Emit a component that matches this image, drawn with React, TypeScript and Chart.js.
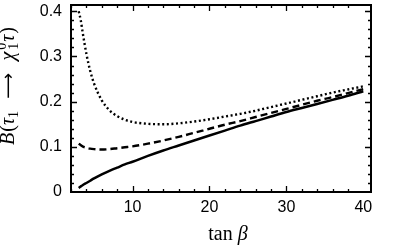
import React, { useEffect, useRef } from "react";
import { Chart, registerables } from "chart.js";

Chart.register(...registerables);

// tan(beta) sample points
const TAN_BETA = [3, 3.25, 3.5, 4, 4.5, 5, 6, 7, 8, 9, 10, 12, 14, 16, 18, 20, 22, 24, 26, 28, 30, 32, 34, 36, 38, 40];

// solid curve
const SOLID = [0.009, 0.012, 0.015, 0.02, 0.025, 0.03, 0.039, 0.047, 0.054, 0.061, 0.067, 0.08, 0.092, 0.103, 0.114, 0.125, 0.136, 0.147, 0.157, 0.167, 0.177, 0.186, 0.195, 0.204, 0.213, 0.223];

// dashed curve
const DASHED = [0.107, 0.104, 0.101, 0.098, 0.096, 0.095, 0.094, 0.095, 0.097, 0.099, 0.101, 0.107, 0.114, 0.122, 0.131, 0.14, 0.149, 0.157, 0.166, 0.175, 0.184, 0.193, 0.202, 0.21, 0.219, 0.228];

// dotted curve
const DOTTED = [0.4, 0.382, 0.355, 0.306, 0.268, 0.24, 0.203, 0.181, 0.168, 0.16, 0.155, 0.151, 0.15, 0.152, 0.156, 0.161, 0.167, 0.173, 0.18, 0.188, 0.196, 0.204, 0.212, 0.22, 0.227, 0.234];

// tick labels
const X_TICKS = [10, 20, 30, 40];
const Y_TICKS = [0, 0.1, 0.2, 0.3, 0.4];

const X_MIN = 2;
const X_MAX = 41;
const Y_MIN = 0;
const Y_MAX = 0.414;

const SANS = "'Liberation Sans', Arial, sans-serif";
const SERIF = "'Liberation Serif', 'Times New Roman', serif";

const framePlugin = {
  id: "frameTicks",
  afterDatasetsDraw(chart: any) {
    const { ctx, chartArea: a, scales } = chart;
    const xs = scales.x;
    const ys = scales.y;
    ctx.save();
    ctx.strokeStyle = "#000";
    ctx.lineWidth = 1.3;
    ctx.beginPath();
    for (let i = 1; i <= 19; i++) {
      const v = 2 * i;
      const px = Math.round(xs.getPixelForValue(v)) + 0.5;
      const len = v % 10 === 0 ? 6 : 3;
      ctx.moveTo(px, a.bottom);
      ctx.lineTo(px, a.bottom - len);
      ctx.moveTo(px, a.top);
      ctx.lineTo(px, a.top + len);
    }
    for (let i = 1; i <= 20; i++) {
      const v = i * 0.02;
      const py = Math.round(ys.getPixelForValue(v)) + 0.5;
      const len = i % 5 === 0 ? 6 : 3;
      ctx.moveTo(a.left, py);
      ctx.lineTo(a.left + len, py);
      ctx.moveTo(a.right, py);
      ctx.lineTo(a.right - len, py);
    }
    ctx.stroke();
    ctx.lineWidth = 2;
    ctx.strokeRect(a.left, a.top, a.right - a.left, a.bottom - a.top);
    ctx.restore();
  },
  afterDraw(chart: any) {
    const { ctx, chartArea: a } = chart;
    ctx.save();
    ctx.fillStyle = "#000";
    ctx.textBaseline = "alphabetic";

    // x title: tan β
    const fUp = `20px ${SERIF}`;
    const fIt = `italic 20px ${SERIF}`;
    ctx.font = fUp;
    const wTan = ctx.measureText("tan").width;
    ctx.font = fIt;
    const wB = ctx.measureText("β").width;
    const gap = 5;
    const total = wTan + gap + wB;
    const cx = (a.left + a.right) / 2 + 7;
    const x0 = cx - total / 2;
    const base = 240;
    ctx.font = fUp;
    ctx.fillText("tan", x0, base);
    ctx.font = fIt;
    ctx.fillText("β", x0 + wTan + gap, base);

    // y title: B(τ1 → χ01 τ)
    type Run = { t: string; f: string; dy: number; adv?: boolean; gapBefore?: number; flex?: boolean };
    const S = 20;
    const s = 14;
    const runs: Run[] = [
      { t: "B", f: `italic ${S}px ${SERIF}`, dy: 0 },
      { t: "(", f: `${S}px ${SERIF}`, dy: 0, gapBefore: 1 },
      { t: "τ", f: `italic ${S}px ${SERIF}`, dy: 0 },
      { t: "1", f: `${s}px ${SERIF}`, dy: 4 },
      { t: "⟶", f: `18px 'DejaVu Sans', sans-serif`, dy: 0, flex: true },
      { t: "χ", f: `italic ${S}px ${SERIF}`, dy: 0, flex: true },
      { t: "0", f: `${s}px ${SERIF}`, dy: -8, adv: false, gapBefore: 2 },
      { t: "1", f: `${s}px ${SERIF}`, dy: 4 },
      { t: "τ", f: `italic ${S}px ${SERIF}`, dy: 0, gapBefore: 1 },
      { t: ")", f: `${S}px ${SERIF}`, dy: 0, gapBefore: 1 },
    ];
    let len = 0;
    let nflex = 0;
    for (const r of runs) {
      ctx.font = r.f;
      len += r.gapBefore || 0;
      if (r.flex) nflex++;
      if (r.adv !== false) len += ctx.measureText(r.t).width;
    }
    const target = 118;
    const flexGap = Math.max(2, (target - len) / nflex);
    const fullLen = len + flexGap * nflex;
    const cy = 86;
    ctx.translate(14, cy + fullLen / 2);
    ctx.rotate(-Math.PI / 2);
    let pos = 0;
    for (const r of runs) {
      ctx.font = r.f;
      pos += r.gapBefore || 0;
      if (r.flex) pos += flexGap;
      ctx.fillText(r.t, pos, r.dy);
      if (r.adv !== false) pos += ctx.measureText(r.t).width;
    }
    ctx.restore();
  },
};

export default function App() {
  const ref = useRef<HTMLCanvasElement | null>(null);

  useEffect(() => {
    document.body.style.margin = "0";
    const canvas = ref.current;
    if (!canvas) return;
    const mk = (ys: number[]) => TAN_BETA.map((x, i) => ({ x, y: ys[i] }));
    const chart = new Chart(canvas, {
      type: "line",
      data: {
        datasets: [
          {
            data: mk(DOTTED),
            borderColor: "#000",
            borderWidth: 2.4,
            borderDash: [2, 2.6],
            borderCapStyle: "butt",
            pointRadius: 0,
            cubicInterpolationMode: "monotone",
            fill: false,
          },
          {
            data: mk(DASHED),
            borderColor: "#000",
            borderWidth: 2.4,
            borderDash: [7, 4],
            borderCapStyle: "butt",
            pointRadius: 0,
            cubicInterpolationMode: "monotone",
            fill: false,
          },
          {
            data: mk(SOLID),
            borderColor: "#000",
            borderWidth: 2.5,
            pointRadius: 0,
            cubicInterpolationMode: "monotone",
            fill: false,
          },
        ],
      },
      options: {
        responsive: false,
        animation: false,
        layout: { padding: { top: 5, right: 29, left: 0, bottom: 0 } },
        plugins: {
          legend: { display: false },
          tooltip: { enabled: false },
          title: { display: false },
        },
        scales: {
          x: {
            type: "linear",
            min: X_MIN,
            max: X_MAX,
            grid: { display: false, drawTicks: false },
            border: { display: false },
            afterBuildTicks: (scale: any) => {
              scale.ticks = X_TICKS.map((v) => ({ value: v }));
            },
            afterFit: (scale: any) => {
              scale.height = 53;
              scale.paddingLeft = 0;
              scale.paddingRight = 0;
            },
            ticks: {
              color: "#000",
              padding: 6,
              maxRotation: 0,
              autoSkip: false,
              font: { family: SANS, size: 16 },
              callback: (v: any) => String(v),
            },
          },
          y: {
            type: "linear",
            min: Y_MIN,
            max: Y_MAX,
            grid: { display: false, drawTicks: false },
            border: { display: false },
            afterBuildTicks: (scale: any) => {
              scale.ticks = Y_TICKS.map((v) => ({ value: v }));
            },
            afterFit: (scale: any) => {
              scale.width = 71;
              scale.paddingTop = 0;
              scale.paddingBottom = 0;
            },
            ticks: {
              color: "#000",
              padding: 9,
              autoSkip: false,
              font: { family: SANS, size: 16 },
              callback: (v: any) => (Number(v) === 0 ? "0" : Number(v).toFixed(1)),
            },
          },
        },
      },
      plugins: [framePlugin],
    } as any);
    return () => chart.destroy();
  }, []);

  return (
    <div style={{ width: 400, height: 245, background: "#fff" }}>
      <canvas ref={ref} width={400} height={245} style={{ display: "block", width: 400, height: 245 }} />
    </div>
  );
}
